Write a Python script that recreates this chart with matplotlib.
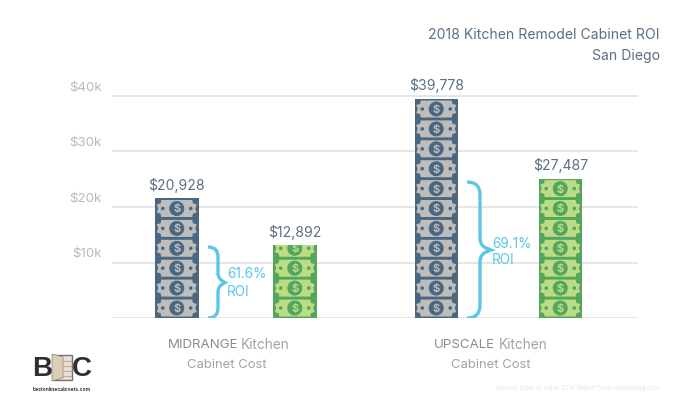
import matplotlib
matplotlib.use('Agg')
import matplotlib.pyplot as plt
from matplotlib.patches import Polygon, Ellipse, Rectangle, PathPatch
from matplotlib.path import Path

# values
# the bars as drawn are not quite to scale with their labels, heights are what the picture shows
bar_heights = [21620, 13150, 39460, 25050]
cost_labels = ['$20,928', '$12,892', '$39,778', '$27,487']
ticks = [10000, 20000, 30000, 40000]
tick_labels = ['$10k', '$20k', '$30k', '$40k']
roi_labels = ['61.6%\nROI', '69.1%\nROI']

plt.rcParams['font.family'] = ['Inter', 'DejaVu Sans']

W, H = 696, 406
fig = plt.figure(figsize=(W / 100, H / 100), dpi=100)

# main axes, x data in pixels from the left edge of the figure
BASE = 319
ax = fig.add_axes([112 / W, 1 - BASE / H, (638 - 112) / W, 240 / H])
ax.set_xlim(112, 638)
PX = 10000 / 55.5  # value units per pixel
ax.set_ylim(0, 240 * PX)
for s in ax.spines.values():
    s.set_visible(False)
ax.set_xticks([])
ax.set_yticks([])
for t, lab in zip(ticks, tick_labels):
    ax.axhline(t, color='#e2e2e2', lw=1.2, zorder=1)
    ax.text(102, t + 9 * PX, lab, color='#b4bbc2', fontsize=9.6, ha='right', va='center', clip_on=False)
ax.axhline(0, color='#e2e2e2', lw=1.2, zorder=1)

NAVY = '#4a6782'
GREY = '#bfbdba'
GREEN = '#54a65e'
LIGHT = '#bbdb85'
CYAN = '#5cc6e6'
TXT = '#5a7086'
BAR_W = 43.5


def bill(xc, yc, body, coin, clip):
    # one bank note, 40 x 17 px with scooped corners
    w, h, n = 20, 8.5, 4.5
    pts = [(-w + n, h), (w - n, h), (w - n + 0.6, h - n + 1.2), (w, h - n), (w - 1.5, 0), (w, -h + n),
           (w - n + 0.6, -h + n - 1.2), (w - n, -h), (-w + n, -h), (-w + n - 0.6, -h + n - 1.2),
           (-w, -h + n), (-w + 1.5, 0), (-w, h - n), (-w + n - 0.6, h - n + 1.2)]
    note = Polygon([(xc + a, yc + b * PX) for a, b in pts], fc=body, ec='none', zorder=3)
    ax.add_patch(note)
    note.set_clip_path(clip)
    c = Ellipse((xc, yc), 15, 15 * PX, fc=coin, ec='none', zorder=4)
    ax.add_patch(c)
    c.set_clip_path(clip)
    for dx in (-14, 14):
        d = Ellipse((xc + dx, yc), 3.6, 3.6 * PX, fc=coin, ec='none', zorder=4)
        ax.add_patch(d)
        d.set_clip_path(clip)
    t = ax.text(xc, yc, '$', color=body, fontsize=8, fontweight='bold', ha='center', va='center', zorder=5,
                clip_on=True)
    t.set_clip_path(clip)


def money_bar(x0, value, bg, body, coin):
    b = ax.bar(x0, value, width=BAR_W, align='edge', color=bg, zorder=2)[0]
    xc = x0 + BAR_W / 2
    yc = 10 * PX
    while yc - 8.5 * PX < value:
        bill(xc, yc, body, coin, b)
        yc += 19.9 * PX


def brace(x0, value, r, tip):
    # curly brace from the baseline up to the value, tip pointing right
    y1, ym = value, value / 2
    k = 4 * PX
    xv = x0 + r
    verts = [(x0, y1), (xv, y1), (xv, y1 - r * PX),
             (xv, ym + r * PX),
             (xv, ym + k), (xv + tip * 0.4, ym + k * 0.6), (xv + tip, ym),
             (xv + tip * 0.4, ym - k * 0.6), (xv, ym - k), (xv, ym - r * PX),
             (xv, r * PX),
             (xv, 0), (x0, 0)]
    codes = [Path.MOVETO, Path.CURVE3, Path.CURVE3, Path.LINETO, Path.CURVE4, Path.CURVE4, Path.CURVE4,
             Path.CURVE4, Path.CURVE4, Path.CURVE4, Path.LINETO, Path.CURVE3, Path.CURVE3]
    ax.add_patch(PathPatch(Path(verts, codes), fc='none', ec=CYAN, lw=2.4, zorder=3))


lefts = [155, 273, 414.5, 538.5]
for i, (x0, v, lab) in enumerate(zip(lefts, bar_heights, cost_labels)):
    if i % 2 == 0:
        money_bar(x0, v, NAVY, GREY, NAVY)
    else:
        money_bar(x0, v, GREEN, LIGHT, GREEN)
    ax.text(x0 + BAR_W / 2, v + 14 * PX, lab, color=TXT, fontsize=10.1, ha='center', va='center')

brace(208, bar_heights[1] - 2 * PX, 10, 7)
brace(467, bar_heights[3] - 3 * PX, 13, 11)
ax.text(227, 36 * PX, roi_labels[0], color=CYAN, fontsize=9.8, va='center', linespacing=1.3)
ax.text(492, 67 * PX, roi_labels[1], color=CYAN, fontsize=9.8, va='center', linespacing=1.2)

# figure level text and logo in pixel coordinates
ov = fig.add_axes([0, 0, 1, 1], zorder=10)
ov.set_xlim(0, W)
ov.set_ylim(H, 0)
ov.axis('off')

ov.text(660, 35, '2018 Kitchen Remodel Cabinet ROI', color=TXT, fontsize=10.1, ha='right', va='center')
ov.text(660, 56, 'San Diego', color=TXT, fontsize=10.1, ha='right', va='center')

GT = '#a2a2a2'
ov.text(238, 345, 'MIDRANGE', color='#8c8c8c', fontsize=9.6, ha='right', va='center')
ov.text(241, 345, 'Kitchen', color=GT, fontsize=9.8, ha='left', va='center')
ov.text(227, 365, 'Cabinet Cost', color=GT, fontsize=9.4, ha='center', va='center')
ov.text(495, 345, 'UPSCALE', color='#8c8c8c', fontsize=9.6, ha='right', va='center')
ov.text(499, 345, 'Kitchen', color=GT, fontsize=9.8, ha='left', va='center')
ov.text(491, 365, 'Cabinet Cost', color=GT, fontsize=9.4, ha='center', va='center')
ov.text(660, 388, 'Source: Cost vs Value 2018 Report from remodeling.com', color='#e4e4e4', fontsize=4.4,
        ha='right', va='center')

# logo
DK = '#2e2e2e'
ov.text(32, 369, 'B', color=DK, fontsize=20, fontweight='bold', ha='left', va='center', family='Liberation Sans')
ov.text(92, 369, 'C', color=DK, fontsize=20, fontweight='bold', ha='right', va='center', family='Liberation Sans')
ov.add_patch(Rectangle((53, 356), 19, 25, fc='#dfe2e6', ec='#777067', lw=1))
for sy in (362, 367, 372, 377):
    ov.plot([63, 71], [sy, sy], color='#e0a95a', lw=0.8)
ov.add_patch(Polygon([(52, 355), (63, 358), (63, 379), (52, 382)], fc='#d9cfb6', ec='#8a8272', lw=0.5))
ov.text(33, 389.5, 'bestonlinecabinets.com', color='#4a4238', fontsize=3.6, fontweight='bold', ha='left',
        va='center')

fig.savefig('out.png', dpi=100)
